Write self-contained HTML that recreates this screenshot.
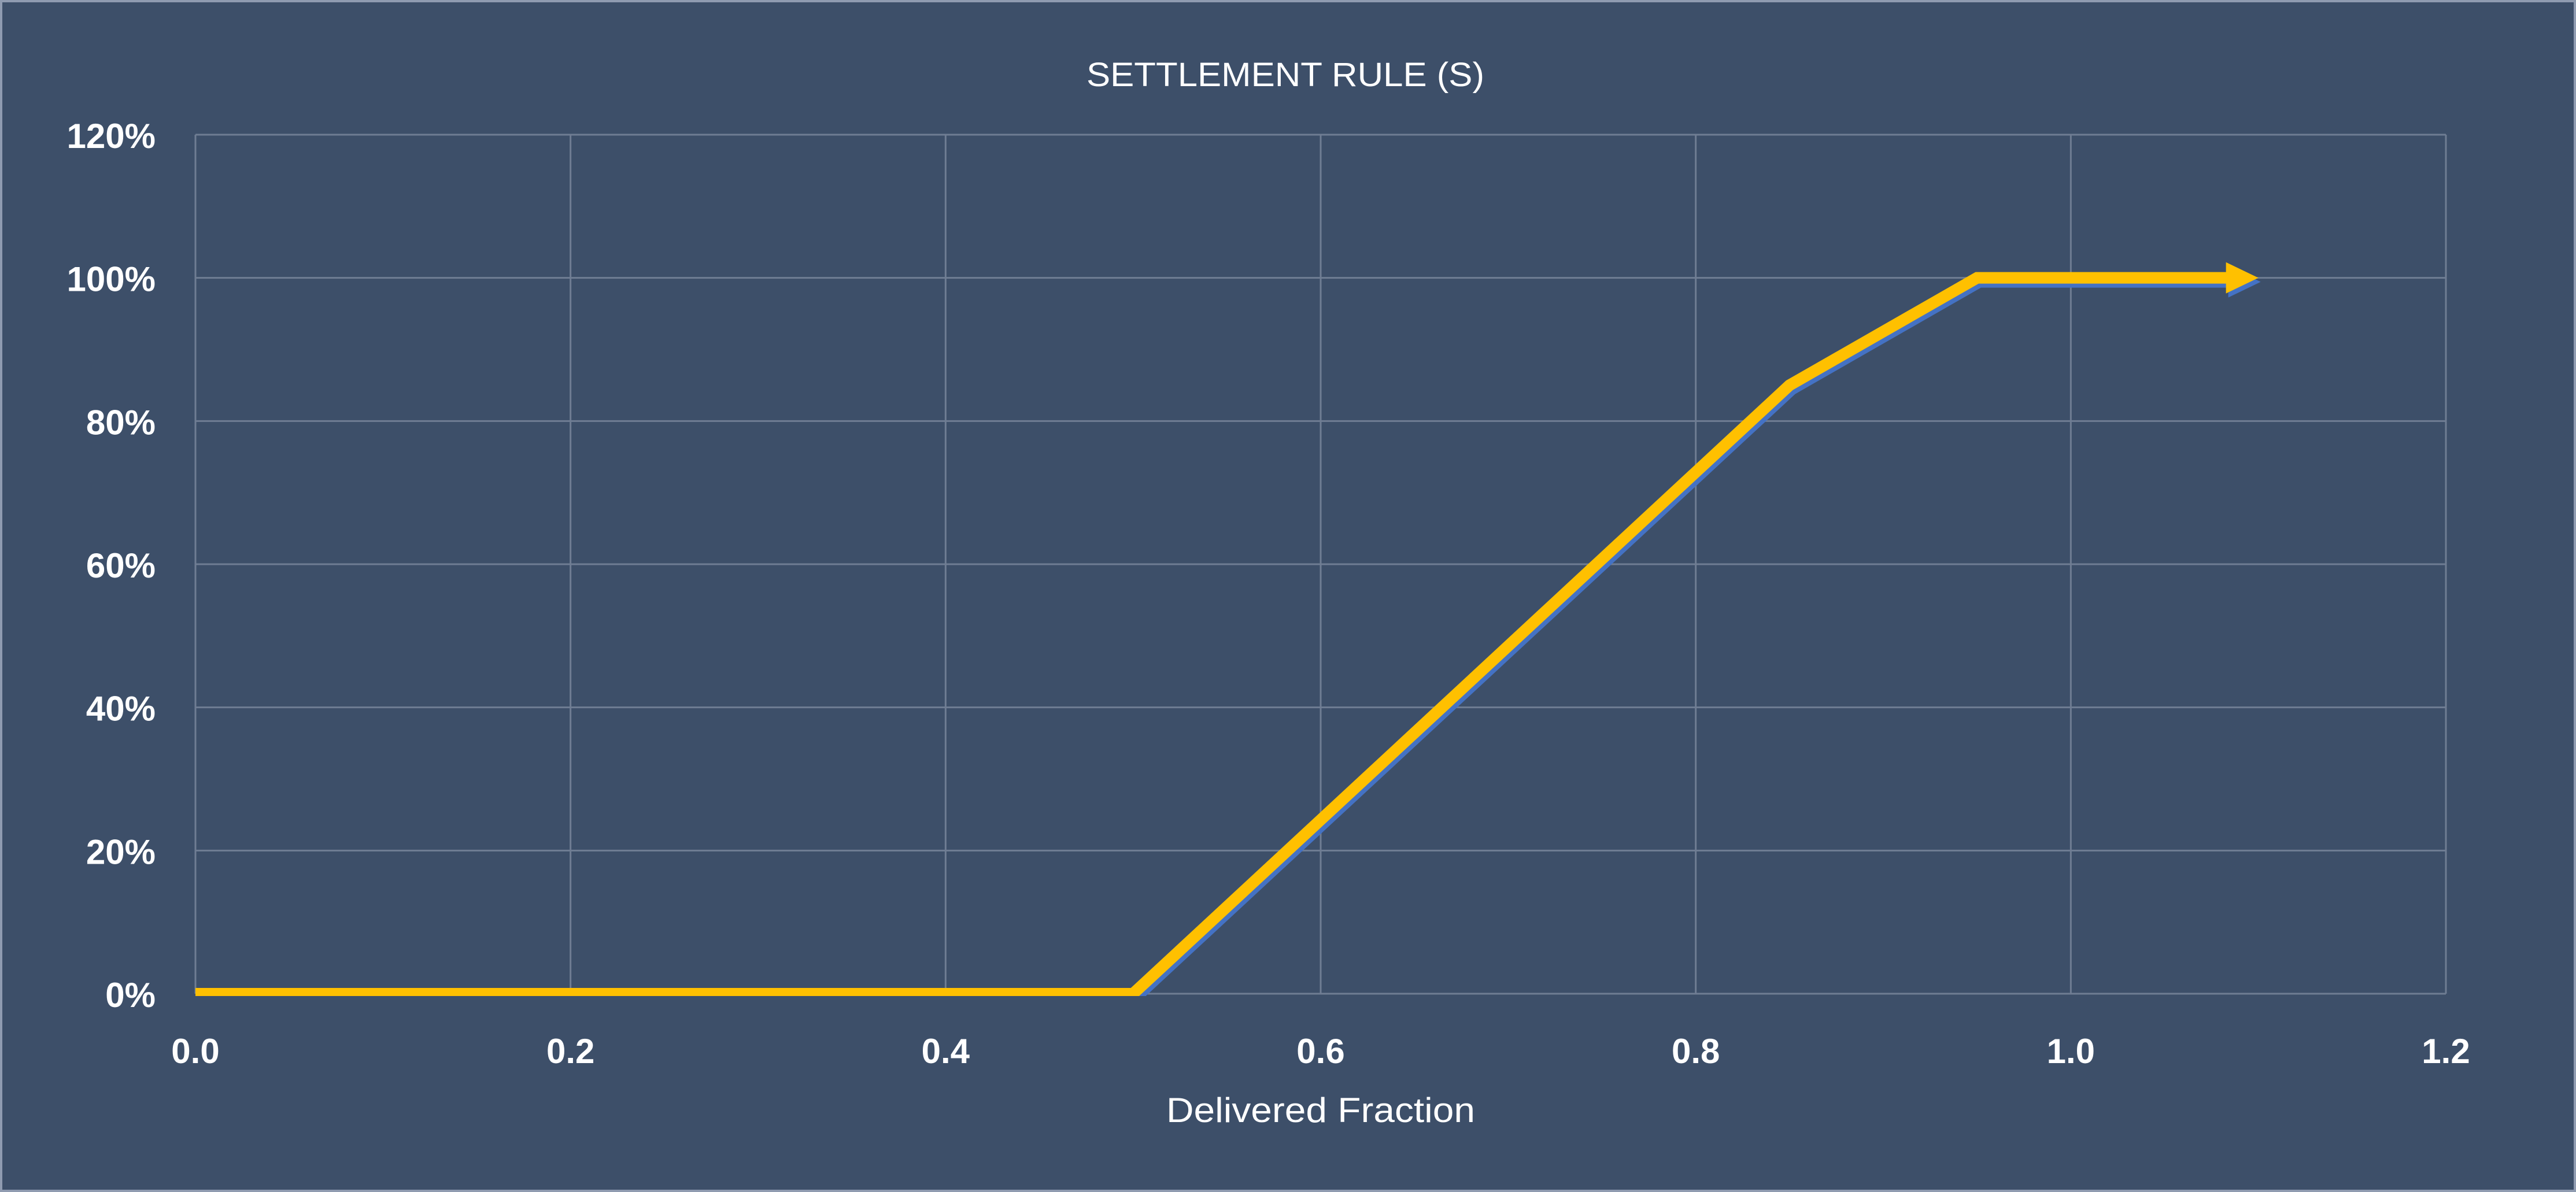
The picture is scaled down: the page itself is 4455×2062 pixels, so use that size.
<!DOCTYPE html>
<html><head><meta charset="utf-8"><style>
html,body{margin:0;padding:0;background:#3d4f69;}
svg{display:block;}
text{font-family:"Liberation Sans",sans-serif;fill:#fff;}
</style></head><body>
<svg id="chart" width="4455" height="2062" viewBox="0 0 4455 2062" xmlns="http://www.w3.org/2000/svg">
<defs><clipPath id="plotclip"><rect x="300" y="150" width="4000" height="1573"/></clipPath></defs>
<rect x="2" y="2" width="4451" height="2058" fill="#3d4f69" stroke="#8f9bb0" stroke-width="4"/>
<text x="2223" y="149" font-size="58" text-anchor="middle" textLength="688" lengthAdjust="spacingAndGlyphs">SETTLEMENT RULE (S)</text>
<g id="grid"></g>
<g id="yticks"></g>
<g id="xticks"></g>
<g id="series" clip-path="url(#plotclip)"></g>
<text x="2284" y="1941" font-size="60" text-anchor="middle" textLength="534" lengthAdjust="spacingAndGlyphs">Delivered Fraction</text>
</svg>
<script>
const xTicks = [0, 0.2, 0.4, 0.6, 0.8, 1.0, 1.2];
const xTickLabels = ["0.0","0.2","0.4","0.6","0.8","1.0","1.2"];
const yTicks = [0, 0.2, 0.4, 0.6, 0.8, 1.0, 1.2];
const yTickLabels = ["0%","20%","40%","60%","80%","100%","120%"];
const seriesX = [0, 0.5, 0.85, 0.95, 1.1];
const seriesY = [0, 0, 0.85, 1.0, 1.0];

const L=338, R=4230, T=233, B=1719;
const xS = v => L + (v-0)/(1.2-0)*(R-L);
const yS = v => B - (v-0)/(1.2-0)*(B-T);
const NS="http://www.w3.org/2000/svg";
function mk(tag, attrs, parent){const e=document.createElementNS(NS,tag);for(const k in attrs)e.setAttribute(k,attrs[k]);parent.appendChild(e);return e;}
const grid=document.getElementById('grid');
xTicks.forEach(v=>{
  const l=mk('line',{x1:xS(v),x2:xS(v),y1:T,y2:B,stroke:'#6f7d93','stroke-width':3},grid);
  
  
});
yTicks.forEach(v=>{
  const l=mk('line',{x1:L,x2:R,y1:yS(v),y2:yS(v),stroke:'#6f7d93','stroke-width':3},grid);
  
  
});
const yt=document.getElementById('yticks');
yTicks.forEach((v,i)=>{
  const t=mk('text',{x:269,y:yS(v)+23,'font-size':60,'font-weight':'bold','text-anchor':'end'},yt);
  t.textContent=yTickLabels[i];
  
  
});
const xt=document.getElementById('xticks');
xTicks.forEach((v,i)=>{
  const t=mk('text',{x:xS(v),y:1839,'font-size':60,'font-weight':'bold','text-anchor':'middle'},xt);
  t.textContent=xTickLabels[i];
  
  
});
const s=document.getElementById('series');
function drawLine(dx,dy,color,name){
  const n=seriesX.length;
  const endX=xS(seriesX[n-1]), endY=yS(seriesY[n-1]);
  let d='';
  for(let i=0;i<n;i++){
    let px=xS(seriesX[i]); const py=yS(seriesY[i]);
    if(i===n-1) px=endX-54;
    d+=(i?'L':'M')+(px+dx)+','+(py+dy);
  }
  const p=mk('path',{d:d,fill:'none',stroke:color,'stroke-width':20,'stroke-linejoin':'miter'},s);
  
  
  const a=mk('polygon',{points:`${endX-56+dx},${endY-27+dy} ${endX+dx},${endY+dy} ${endX-56+dx},${endY+27+dy}`,fill:color},s);
  
  
}
drawLine(4,7,'#4472c4','shadow');
drawLine(0,0,'#ffc000','settlement');
</script>
</body></html>
